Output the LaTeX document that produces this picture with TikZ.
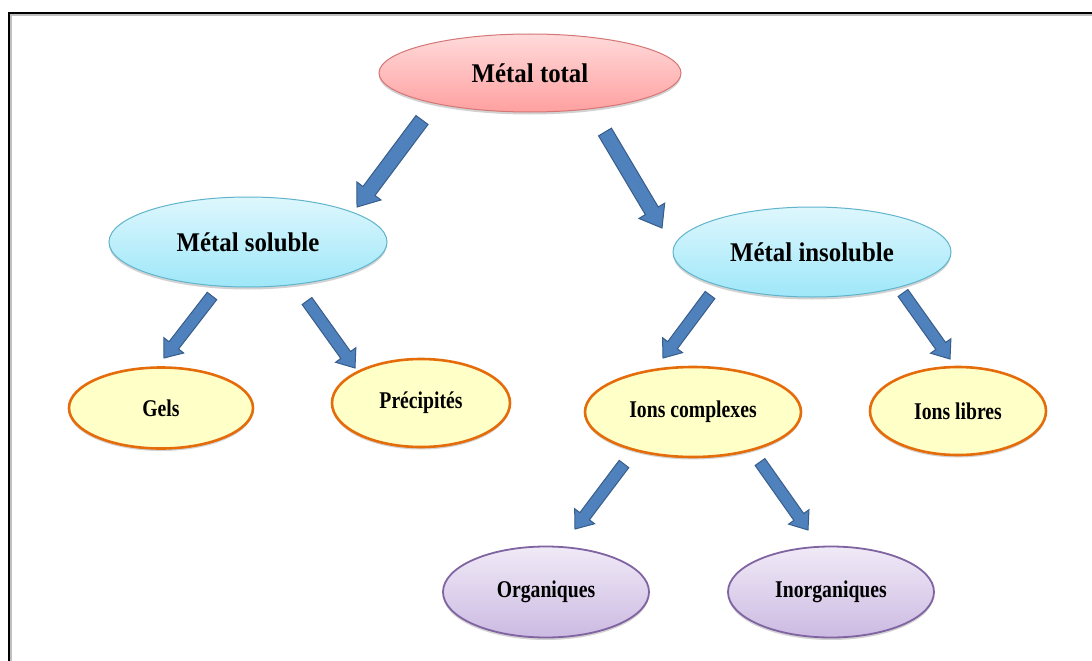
\documentclass[tikz,border=0pt]{standalone}
\usepackage{fontspec}
\setmainfont{Liberation Serif}
\newfontfamily\bigtxt[FakeStretch=0.92]{Liberation Serif}
\newfontfamily\smalltxt[FakeStretch=0.82]{Liberation Serif}
\usetikzlibrary{shapes.geometric,calc,shadows}
\definecolor{arrowfill}{RGB}{79,129,189}
\definecolor{arrowline}{RGB}{56,93,138}
\definecolor{pinkTop}{RGB}{255,218,218}
\definecolor{pinkBot}{RGB}{255,160,160}
\definecolor{pinkLine}{RGB}{212,118,118}
\definecolor{cyanTop}{RGB}{222,247,253}
\definecolor{cyanBot}{RGB}{158,231,249}
\definecolor{cyanLine}{RGB}{96,180,204}
\definecolor{yelFill}{RGB}{255,255,200}
\definecolor{orangeLine}{RGB}{228,108,10}
\definecolor{purTop}{RGB}{240,234,247}
\definecolor{purBot}{RGB}{204,186,226}
\definecolor{purLine}{RGB}{128,100,162}
\newcommand{\bluearrow}[5]{%
  \coordinate (ba-h) at ($(#2)!#5!(#1)$);
  \filldraw[arrowstyle]
    ($(#1)!#3!90:(#2)$) -- ($(ba-h)!#3!90:(#2)$) -- ($(ba-h)!#4!90:(#2)$) --
    (#2) --
    ($(ba-h)!#4!-90:(#2)$) -- ($(ba-h)!#3!-90:(#2)$) -- ($(#1)!#3!-90:(#2)$) -- cycle;%
}
\begin{document}
\begin{tikzpicture}[x=1pt,y=-1pt,
  base/.style={ellipse, inner sep=0pt, align=center,
    drop shadow={shadow xshift=0pt,shadow yshift=-2.5pt,opacity=0.25,fill=black!70}},
  bigfont/.style={font=\bigtxt\fontsize{27}{32}\selectfont\bfseries},
  smallfont/.style={font=\smalltxt\fontsize{24}{28}\selectfont\bfseries},
  pinknode/.style={base, bigfont, top color=pinkTop, bottom color=pinkBot, draw=pinkLine, line width=1pt},
  bluenode/.style={base, bigfont, top color=cyanTop, bottom color=cyanBot, draw=cyanLine, line width=1pt},
  yelnode/.style={base, smallfont, fill=yelFill, draw=orangeLine, line width=2.6pt},
  purnode/.style={base, smallfont, top color=purTop, bottom color=purBot, draw=purLine, line width=1.8pt},
  arrowstyle/.style={fill=arrowfill, draw=arrowline, line width=1pt, line join=miter},
  frame/.style={draw=black, line width=2.2pt}
]
\useasboundingbox (0,0) rectangle (1092,661);
\fill[white] (0,0) rectangle (1092,661);
% frame
\draw[black!25, line width=1.5pt] (11,661) -- (11,15) -- (1092,15);
\draw[frame] (9,661) -- (9,13) -- (1092,13);

% nodes
\node[pinknode, minimum width=302pt, minimum height=78pt] (total) at (530,73) {Métal total};
\node[bluenode, minimum width=278pt, minimum height=90pt] (soluble) at (248,242) {Métal soluble};
\node[bluenode, minimum width=278pt, minimum height=90pt] (insoluble) at (812,252) {Métal insoluble};
\node[yelnode, minimum width=184pt, minimum height=81pt] (gels) at (161,408) {Gels};
\node[yelnode, minimum width=178pt, minimum height=88pt] (precip) at (421,403) {Précipités};
\node[yelnode, minimum width=216pt, minimum height=90pt] (complexes) at (693,412) {Ions complexes};
\node[yelnode, minimum width=176pt, minimum height=88pt] (libres) at (958,411) {Ions libres};
\node[purnode, minimum width=206pt, minimum height=91pt] (org) at (546,592) {Organiques};
\node[purnode, minimum width=206pt, minimum height=91pt] (inorg) at (831,592) {Inorganiques};

% arrow end points
\coordinate (a1s) at (422,120); \coordinate (a1e) at (357,207);
\coordinate (a2s) at (605,132); \coordinate (a2e) at (662,228);
\coordinate (a3s) at (212,296); \coordinate (a3e) at (164,358);
\coordinate (a4s) at (307,301); \coordinate (a4e) at (355,368);
\coordinate (a5s) at (710,295); \coordinate (a5e) at (663,358);
\coordinate (a6s) at (903,293); \coordinate (a6e) at (950,359);
\coordinate (a7s) at (624,464); \coordinate (a7e) at (575,529);
\coordinate (a8s) at (760,462); \coordinate (a8e) at (808,530);

\bluearrow{a1s}{a1e}{7.5pt}{15pt}{20pt}
\bluearrow{a2s}{a2e}{7.5pt}{15pt}{20pt}
\bluearrow{a3s}{a3e}{6pt}{12.5pt}{16pt}
\bluearrow{a4s}{a4e}{6pt}{12.5pt}{16pt}
\bluearrow{a5s}{a5e}{6pt}{12.5pt}{16pt}
\bluearrow{a6s}{a6e}{6pt}{12.5pt}{16pt}
\bluearrow{a7s}{a7e}{6pt}{12.5pt}{16pt}
\bluearrow{a8s}{a8e}{6pt}{12.5pt}{16pt}
\end{tikzpicture}
\end{document}
